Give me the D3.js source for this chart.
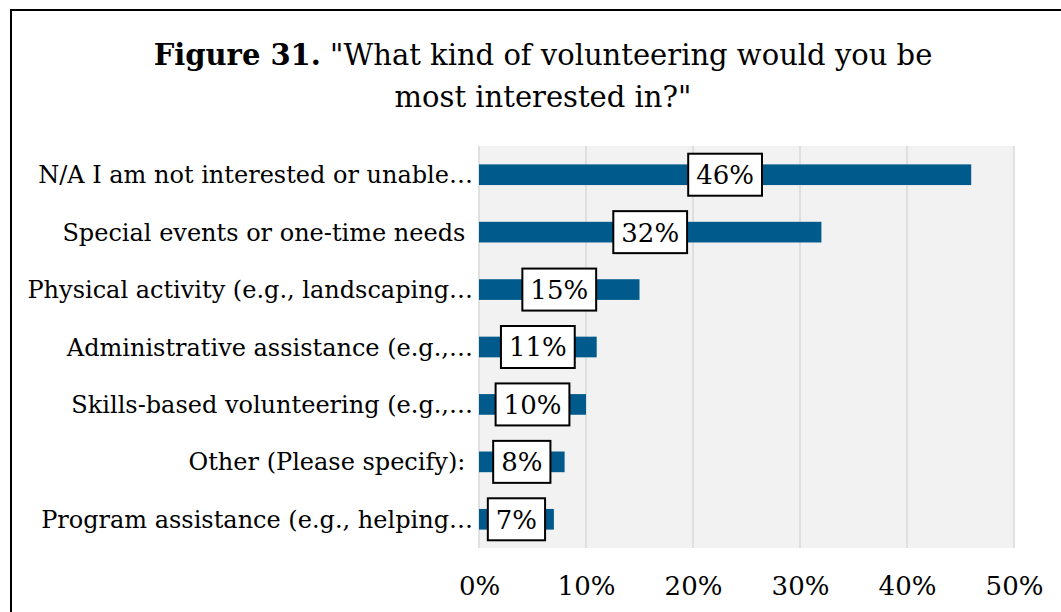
<!DOCTYPE html>
<html>
<head>
<meta charset="utf-8">
<script src="https://cdn.jsdelivr.net/npm/d3@7"></script>
<style>
  html, body { margin: 0; padding: 0; background: #fff; }
  svg { display: block; }
  text { font-family: "DejaVu Serif", "Liberation Serif", serif; fill: #000; }
</style>
</head>
<body>
<svg id="chart" width="1061" height="612"></svg>
<script>
// Survey responses, top to bottom
const categories = [
  "N/A I am not interested or unable\u2026",
  "Special events or one-time needs ",
  "Physical activity (e.g., landscaping\u2026",
  "Administrative assistance (e.g.,\u2026",
  "Skills-based volunteering (e.g.,\u2026",
  "Other (Please specify): ",
  "Program assistance (e.g., helping\u2026"
];
const shares = [0.46, 0.32, 0.15, 0.11, 0.10, 0.08, 0.07];
const tickValues = [0, 0.1, 0.2, 0.3, 0.4, 0.5];
const titleBold = "Figure 31.";
const titleLine1 = " \"What kind of volunteering would you be";
const titleLine2 = "most interested in?\"";

const svg = d3.select("#chart");
const W = 1061, H = 612;
const plot = { left: 479, right: 1014, top: 146, bottom: 548 };

// outer frame (runs off the right and bottom edges)
svg.append("rect")
  .attr("x", 11).attr("y", 10)
  .attr("width", W).attr("height", H)
  .attr("fill", "none").attr("stroke", "#000").attr("stroke-width", 2);

// title
const title = svg.append("text")
  .attr("x", 543).attr("y", 65)
  .attr("text-anchor", "middle")
  .style("font-size", "29px");
title.append("tspan").attr("font-weight", "bold").text(titleBold);
title.append("tspan").style("white-space", "pre").text(titleLine1);
svg.append("text")
  .attr("x", 543).attr("y", 107)
  .attr("text-anchor", "middle")
  .style("font-size", "29px")
  .text(titleLine2);

const x = d3.scaleLinear().domain([0, 0.5]).range([plot.left, plot.right]);
const y = d3.scaleBand().domain(categories)
  .range([plot.top, plot.bottom])
  .paddingInner(0.64).paddingOuter(0.32);

// plot background
svg.append("rect")
  .attr("x", plot.left).attr("y", plot.top)
  .attr("width", plot.right - plot.left).attr("height", plot.bottom - plot.top)
  .attr("fill", "#F2F2F2");

// vertical gridlines
svg.append("g").selectAll("line").data(tickValues).join("line")
  .attr("x1", d => x(d)).attr("x2", d => x(d))
  .attr("y1", plot.top).attr("y2", plot.bottom)
  .attr("stroke", "#D9D9D9").attr("stroke-width", 1.5);

// x axis labels
const xAxis = d3.axisBottom(x).tickValues(tickValues)
  .tickFormat(d3.format(".0%")).tickSize(0).tickPadding(0);
const gx = svg.append("g")
  .attr("transform", `translate(0, ${plot.bottom})`)
  .call(xAxis);
gx.select(".domain").remove();
gx.selectAll("text")
  .attr("y", 47).attr("dy", null)
  .style("font-size", "26px")
  .attr("font-family", null);

// y axis labels
const yAxis = d3.axisLeft(y).tickSize(0).tickPadding(0);
const gy = svg.append("g")
  .attr("transform", `translate(${plot.left - 6}, 0)`)
  .call(yAxis);
gy.select(".domain").remove();
gy.selectAll("text")
  .style("font-size", "24px")
  .style("white-space", "pre")
  .attr("dy", "0.36em")
  .attr("font-family", null);

// bars
svg.append("g").selectAll("rect").data(shares).join("rect")
  .attr("x", x(0))
  .attr("y", (d, i) => y(categories[i]))
  .attr("width", d => x(d) - x(0))
  .attr("height", y.bandwidth())
  .attr("fill", "#005A8C");

// value labels in boxes, centred on each bar
const fmt = d3.format(".0%");
const lab = svg.append("g").selectAll("g").data(shares).join("g")
  .attr("transform", (d, i) =>
    `translate(${(x(0) + x(d)) / 2}, ${y(categories[i]) + y.bandwidth() / 2})`);
const boxes = lab.append("rect")
  .attr("fill", "#fff").attr("stroke", "#000").attr("stroke-width", 2);
const labTexts = lab.append("text")
  .attr("text-anchor", "middle").attr("dy", "0.36em")
  .style("font-size", "26px")
  .text(d => fmt(d));
labTexts.each(function(d, i) {
  const w = this.getComputedTextLength();
  d3.select(boxes.nodes()[i])
    .attr("x", -w / 2 - 8).attr("y", -21)
    .attr("width", w + 16).attr("height", 42);
});
</script>
</body>
</html>
